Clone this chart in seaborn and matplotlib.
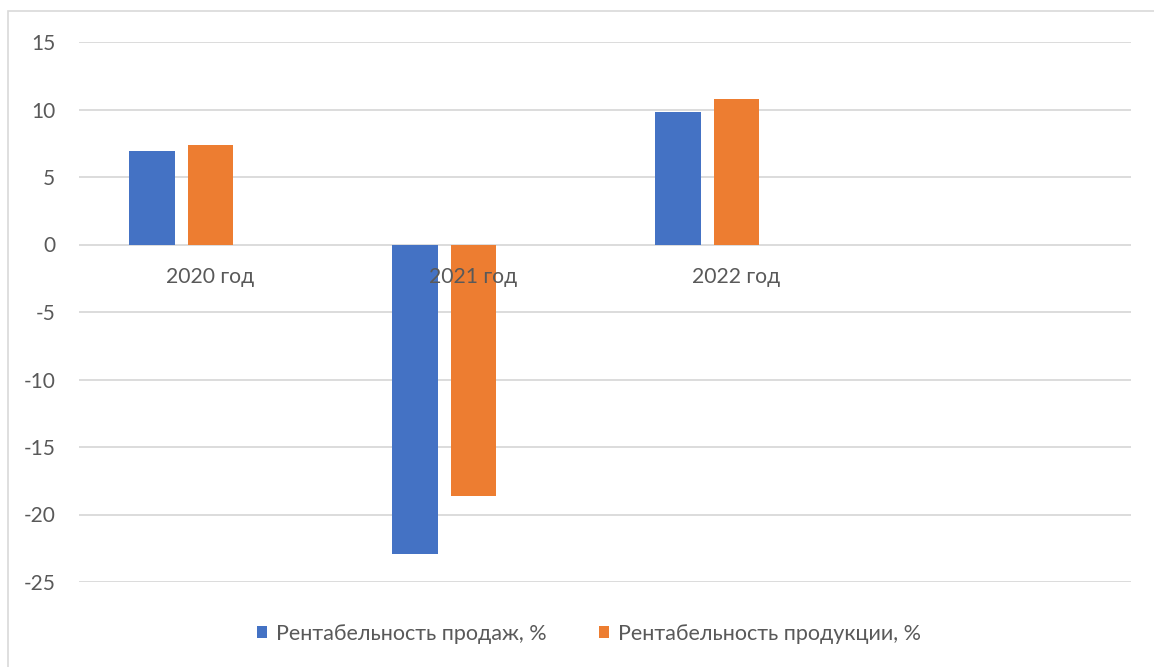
import matplotlib
matplotlib.use("Agg")
import matplotlib.pyplot as plt
from matplotlib.patches import Patch, Rectangle
import seaborn as sns
import pandas as pd

# Chart data
years = ["2020 год", "2021 год", "2022 год"]
sales_margin = [6.9, -22.9, 9.8]        # Рентабельность продаж, %
product_margin = [7.4, -18.6, 10.8]     # Рентабельность продукции, %
series_names = ["Рентабельность продаж, %", "Рентабельность продукции, %"]
y_ticks = [15, 10, 5, 0, -5, -10, -15, -20, -25]

# The original workbook reserves room for a third (empty) series and a fourth (empty) category
spare_series = "Ряд3"
spare_category = " "

blue = "#4472C4"
orange = "#ED7D31"
text_gray = "#595959"
grid_gray = "#D9D9D9"

df = pd.DataFrame({
    "year": years * 2,
    "series": [series_names[0]] * len(years) + [series_names[1]] * len(years),
    "value": sales_margin + product_margin,
})

sns.set_theme(style="white")
plt.rcParams["font.family"] = ["Lato", "DejaVu Sans"]

fig = plt.figure(figsize=(11.54, 6.67), dpi=100)
ax = fig.add_axes([79 / 1154, 85 / 667, (1131 - 79) / 1154, (582 - 42) / 667])

sns.barplot(
    data=df, x="year", y="value", hue="series",
    order=years + [spare_category],
    hue_order=series_names + [spare_series],
    palette={series_names[0]: blue, series_names[1]: orange, spare_series: "white"},
    width=0.666, gap=0.217, linewidth=0, saturation=1,
    errorbar=None, legend=False, ax=ax, zorder=2,
)

ax.set_xlim(-0.5, 3.5)
ax.set_ylim(-25, 15)
ax.set_yticks(y_ticks)
ax.set_yticklabels([str(t) for t in y_ticks])
ax.tick_params(axis="y", length=0, pad=17, labelsize=15, labelcolor=text_gray)
ax.set_xticks([])
ax.set_xlabel("")
ax.set_ylabel("")
ax.yaxis.grid(True, color=grid_gray, linewidth=1.3)
ax.set_axisbelow(True)
for s in ax.spines.values():
    s.set_visible(False)

# Category labels sit just under the zero line, above the bars
for i, name in enumerate(years):
    ax.annotate(name, xy=(i, 0), xytext=(0, -16), textcoords="offset points",
                ha="center", va="top", fontsize=15.2, color=text_gray, zorder=5)

# Legend below the plot
handles = [Patch(facecolor=blue, edgecolor="none"), Patch(facecolor=orange, edgecolor="none")]
fig.legend(handles, series_names, loc="center", bbox_to_anchor=(589 / 1154, 33 / 667),
           ncol=2, frameon=False, fontsize=15.5, labelcolor=text_gray,
           handlelength=0.5, handleheight=0.5, handletextpad=0.42, columnspacing=2.4)

# Chart-area border
fig.patches.append(Rectangle((8 / 1154, -0.1), 1.2, 1 - 11 / 667 + 0.1, transform=fig.transFigure,
                             fill=False, edgecolor=grid_gray, linewidth=1.2))

fig.savefig("out.png", dpi=100, facecolor="white")
